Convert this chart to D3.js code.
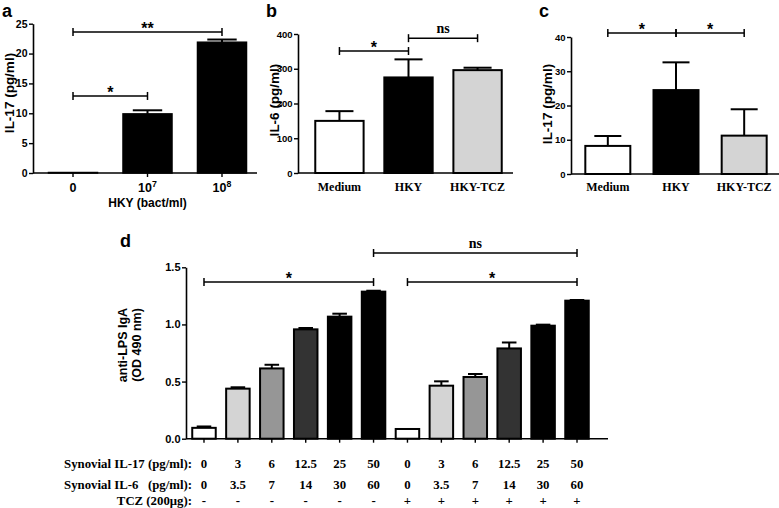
<!DOCTYPE html>
<html><head><meta charset="utf-8">
<script src="https://cdn.jsdelivr.net/npm/d3@7"></script>
<style>body{margin:0;background:#fff}svg{display:block}</style>
</head><body><svg id="chart" width="779" height="508"></svg>
<script>
// ---------- Panel a ----------
const aCategories = ["0", "10^7", "10^8"];
const aMeans = [0.08, 9.9, 21.9];
const aSem = [0.0, 0.6, 0.45];
const aTicks = [0, 5, 10, 15, 20, 25];
// ---------- Panel b ----------
const bCategories = ["Medium", "HKY", "HKY-TCZ"];
const bMeans = [150, 275, 296];
const bSem = [28, 52, 7];
const bTicks = [0, 100, 200, 300, 400];
// ---------- Panel c ----------
const cCategories = ["Medium", "HKY", "HKY-TCZ"];
const cMeans = [8.2, 24.5, 11.2];
const cSem = [2.9, 8.1, 7.7];
const cTicks = [0, 10, 20, 30, 40];
// ---------- Panel d ----------
const dIL17 = ["0", "3", "6", "12.5", "25", "50", "0", "3", "6", "12.5", "25", "50"];
const dIL6 = ["0", "3.5", "7", "14", "30", "60", "0", "3.5", "7", "14", "30", "60"];
const dTCZ = ["-", "-", "-", "-", "-", "-", "+", "+", "+", "+", "+", "+"];
const dMeans = [0.095, 0.438, 0.615, 0.957, 1.068, 1.287, 0.085, 0.464, 0.54, 0.79, 0.989, 1.208];
const dSem = [0.012, 0.012, 0.032, 0.012, 0.026, 0.008, 0.0, 0.038, 0.026, 0.052, 0.009, 0.006];
const dTicks = [0, 0.5, 1.0, 1.5];
// significance brackets: [from index, to index, y (data units), label]
const aSig = [[0, 1, 12.9, "*"], [0, 2, 23.6, "**"]];
const bSig = [[0, 1, 351, "*"], [1, 2, 388, "ns"]];
const cSig = [[0, 1, 41.2, "*"], [1, 2, 41.2, "*"]];
const dSig = [[0, 5, 1.371, "*"], [6, 11, 1.371, "*"], [5, 11, 1.625, "ns"]];

const panelFills = ["#ffffff", "#000000", "#d4d4d4"];
const dFills = ["#ffffff", "#d4d4d4", "#969696", "#333333", "#000000", "#000000"];

const SANS = "'Liberation Sans', Arial, sans-serif";
const SERIF = "'Liberation Serif', 'Times New Roman', serif";
const svg = d3.select("#chart");

function drawPanel(cfg) {
  const g = svg.append("g");
  const x = d3.scaleBand().domain(d3.range(cfg.means.length))
    .range(cfg.bandRange).paddingInner(cfg.pi).paddingOuter(cfg.po);
  const y = d3.scaleLinear().domain([0, cfg.ticks[cfg.ticks.length - 1]]).range([cfg.yBase, cfg.yTop]);
  const bw = x.bandwidth();
  g.selectAll("rect.bar").data(cfg.means).enter().append("rect")
    .attr("x", (d, i) => x(i)).attr("y", d => y(d))
    .attr("width", bw).attr("height", d => cfg.yBase - y(d))
    .attr("fill", (d, i) => cfg.fills[i % cfg.fills.length])
    .attr("stroke", "#000").attr("stroke-width", cfg.barStroke);
  const capW = bw * cfg.capFrac;
  cfg.means.forEach((m, i) => {
    const s = cfg.sem[i];
    if (s <= 0) return;
    const cx = x(i) + bw / 2;
    g.append("line").attr("x1", cx).attr("x2", cx).attr("y1", y(m)).attr("y2", y(m + s))
      .attr("stroke", "#000").attr("stroke-width", 2);
    g.append("line").attr("x1", cx - capW / 2).attr("x2", cx + capW / 2).attr("y1", y(m + s)).attr("y2", y(m + s))
      .attr("stroke", "#000").attr("stroke-width", 2);
  });
  const ya = g.append("g").attr("transform", `translate(${cfg.bandRange[0]},0)`)
    .call(d3.axisLeft(y).tickValues(cfg.ticks).tickFormat(cfg.tickFmt).tickSize(4).tickSizeOuter(0).tickPadding(1.5));
  ya.select(".domain").attr("stroke-width", 1.6);
  ya.selectAll(".tick line").attr("stroke-width", 1.4);
  ya.selectAll(".tick text").attr("font-family", SANS).attr("font-weight", "bold")
    .attr("font-size", cfg.tickSize).attr("fill", "#000");
  g.append("line").attr("x1", cfg.bandRange[0]).attr("x2", cfg.xEnd)
    .attr("y1", cfg.yBase).attr("y2", cfg.yBase).attr("stroke", "#000").attr("stroke-width", 1.6);
  if (cfg.xTicks) {
    cfg.means.forEach((m, i) => {
      const cx = x(i) + bw / 2;
      g.append("line").attr("x1", cx).attr("x2", cx).attr("y1", cfg.yBase).attr("y2", cfg.yBase + 4)
        .attr("stroke", "#000").attr("stroke-width", 1.4);
    });
  }
  if (cfg.cats) {
    cfg.cats.forEach((c, i) => {
      const t = g.append("text").attr("x", x(i) + bw / 2).attr("y", cfg.catY)
        .attr("text-anchor", "middle").attr("font-family", cfg.catFont)
        .attr("font-weight", "bold").attr("font-size", cfg.catSize);
      const parts = c.split("^");
      t.append("tspan").text(parts[0]);
      if (parts[1]) t.append("tspan").attr("font-size", cfg.catSize * 0.7).attr("dy", -5).text(parts[1]);
    });
  }
  const yl = g.append("text").attr("transform", `translate(${cfg.yLabelX},${cfg.yLabelY}) rotate(-90)`)
    .attr("text-anchor", "middle").attr("font-family", SANS).attr("font-weight", "bold")
    .attr("font-size", cfg.yLabelSize);
  cfg.yLabel.forEach((line, k) => yl.append("tspan").attr("x", 0).attr("dy", k === 0 ? 0 : cfg.yLabelSize * 1.15).text(line));
  cfg.sig.forEach(([a, b, v, lab]) => {
    const x1 = x(a) + bw / 2, x2 = x(b) + bw / 2;
    const yy = y(v);
    g.append("line").attr("x1", x1).attr("x2", x2).attr("y1", yy).attr("y2", yy).attr("stroke", "#000").attr("stroke-width", 1.5);
    [x1, x2].forEach(xx => g.append("line").attr("x1", xx).attr("x2", xx).attr("y1", yy - 4).attr("y2", yy + 4)
      .attr("stroke", "#000").attr("stroke-width", 1.5));
    const isNs = lab === "ns";
    g.append("text").attr("x", (x1 + x2) / 2)
      .attr("y", isNs ? yy - 5 : yy + 2).attr("text-anchor", "middle")
      .attr("font-family", isNs ? SERIF : SANS).attr("font-weight", "bold")
      .attr("font-size", isNs ? 14 : 16).text(lab);
  });
  svg.append("text").attr("x", cfg.letterX).attr("y", cfg.letterY).attr("font-family", SANS)
    .attr("font-weight", "bold").attr("font-size", 18).text(cfg.letter);
  return { x, y, g, bw };
}

const pa = drawPanel({
  means: aMeans, sem: aSem, ticks: aTicks, fills: ["#000000"], cats: aCategories,
  bandRange: [33, 262], pi: 0.342, po: 0.208, xEnd: 257, yBase: 173, yTop: 23.7,
  barStroke: 1.5, capFrac: 0.6, tickSize: 10.5, tickFmt: d3.format("d"),
  xTicks: true, catY: 192, catFont: SANS, catSize: 12.5,
  yLabel: ["IL-17 (pg/ml)"], yLabelX: 14, yLabelY: 93, yLabelSize: 13.5,
  sig: aSig, letter: "a", letterX: 2, letterY: 16.5
});
svg.append("text").attr("x", pa.x(1) + pa.bw / 2).attr("y", 207).attr("text-anchor", "middle")
  .attr("font-family", SANS).attr("font-weight", "bold").attr("font-size", 12).text("HKY (bact/ml)");

drawPanel({
  means: bMeans, sem: bSem, ticks: bTicks, fills: panelFills, cats: bCategories,
  bandRange: [298, 519], pi: 0.30, po: 0.25, xEnd: 513, yBase: 173, yTop: 34,
  barStroke: 2, capFrac: 0.58, tickSize: 9.5, tickFmt: d3.format("d"),
  xTicks: false, catY: 191, catFont: SERIF, catSize: 12,
  yLabel: ["IL-6 (pg/ml)"], yLabelX: 279, yLabelY: 100, yLabelSize: 13.5,
  sig: bSig, letter: "b", letterX: 266, letterY: 16.5
});

drawPanel({
  means: cMeans, sem: cSem, ticks: cTicks, fills: panelFills, cats: cCategories,
  bandRange: [571, 781], pi: 0.34, po: 0.21, xEnd: 779, yBase: 174, yTop: 37,
  barStroke: 2, capFrac: 0.6, tickSize: 9.5, tickFmt: d3.format("d"),
  xTicks: false, catY: 191, catFont: SERIF, catSize: 12,
  yLabel: ["IL-17 (pg/ml)"], yLabelX: 552, yLabelY: 104, yLabelSize: 13.5,
  sig: cSig, letter: "c", letterX: 539, letterY: 16.5
});

const pd = drawPanel({
  means: dMeans, sem: dSem, ticks: dTicks, fills: dFills, cats: null,
  bandRange: [186, 595], pi: 0.307, po: 0.184, xEnd: 608, yBase: 438.7, yTop: 267.3,
  barStroke: 2, capFrac: 0.62, tickSize: 11, tickFmt: d3.format(".1f"),
  xTicks: true,
  yLabel: ["anti-LPS IgA", "(OD 490 nm)"], yLabelX: 127, yLabelY: 345, yLabelSize: 12.5,
  sig: dSig, letter: "d", letterX: 120, letterY: 247
});

const rows = [
  { label: "Synovial IL-17 (pg/ml):", vals: dIL17, y: 468 },
  { label: "Synovial IL-6\u00a0\u00a0 (pg/ml):", vals: dIL6, y: 489 },
  { label: "TCZ (200\u03bcg):", vals: dTCZ, y: 505 }
];
rows.forEach(r => {
  svg.append("text").attr("x", 192).attr("y", r.y).attr("text-anchor", "end")
    .attr("font-family", SERIF).attr("font-weight", "bold").attr("font-size", 12.8).text(r.label);
  r.vals.forEach((v, i) => {
    svg.append("text").attr("x", pd.x(i) + pd.bw / 2).attr("y", r.y).attr("text-anchor", "middle")
      .attr("font-family", SERIF).attr("font-weight", "bold").attr("font-size", 12.8).text(v);
  });
});
</script></body></html>
